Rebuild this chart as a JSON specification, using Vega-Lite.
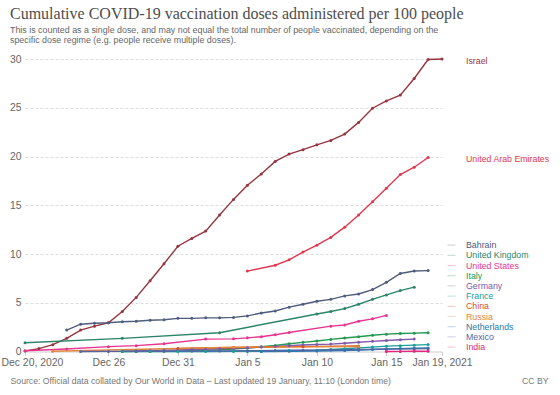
{
  "$schema": "https://vega.github.io/schema/vega-lite/v6.json",
  "width": 417,
  "height": 292.5,
  "autosize": {"type": "none"},
  "padding": {"left": 25, "top": 59, "right": 118, "bottom": 43.5},
  "background": "white",
  "config": {
    "font": "Liberation Sans",
    "view": {"stroke": null}
  },
  "title": {
    "text": "Cumulative COVID-19 vaccination doses administered per 100 people",
    "subtitle": ["This is counted as a single dose, and may not equal the total number of people vaccinated, depending on the", "specific dose regime (e.g. people receive multiple doses)."],
    "anchor": "start",
    "frame": "group",
    "dx": -15,
    "offset": 9,
    "font": "Liberation Serif",
    "fontSize": 16,
    "fontWeight": "normal",
    "color": "#4d4d4d",
    "subtitleFont": "Liberation Sans",
    "subtitleFontSize": 8.9,
    "subtitleColor": "#666666",
    "subtitleLineHeight": 10,
    "subtitlePadding": 4.5
  },
  "data": {"values": [
    {"country":"Israel","date":"2020-12-20","value":0.05},
    {"country":"Israel","date":"2020-12-21","value":0.3},
    {"country":"Israel","date":"2020-12-22","value":0.7},
    {"country":"Israel","date":"2020-12-23","value":1.35},
    {"country":"Israel","date":"2020-12-24","value":2.2},
    {"country":"Israel","date":"2020-12-25","value":2.6},
    {"country":"Israel","date":"2020-12-26","value":2.95},
    {"country":"Israel","date":"2020-12-27","value":4.1},
    {"country":"Israel","date":"2020-12-28","value":5.55},
    {"country":"Israel","date":"2020-12-29","value":7.25},
    {"country":"Israel","date":"2020-12-30","value":9.0},
    {"country":"Israel","date":"2020-12-31","value":10.8},
    {"country":"Israel","date":"2021-01-01","value":11.6},
    {"country":"Israel","date":"2021-01-02","value":12.35},
    {"country":"Israel","date":"2021-01-03","value":14.0},
    {"country":"Israel","date":"2021-01-04","value":15.6},
    {"country":"Israel","date":"2021-01-05","value":17.05},
    {"country":"Israel","date":"2021-01-06","value":18.2},
    {"country":"Israel","date":"2021-01-07","value":19.5},
    {"country":"Israel","date":"2021-01-08","value":20.25},
    {"country":"Israel","date":"2021-01-09","value":20.7},
    {"country":"Israel","date":"2021-01-10","value":21.2},
    {"country":"Israel","date":"2021-01-11","value":21.65},
    {"country":"Israel","date":"2021-01-12","value":22.3},
    {"country":"Israel","date":"2021-01-13","value":23.5},
    {"country":"Israel","date":"2021-01-14","value":24.95},
    {"country":"Israel","date":"2021-01-15","value":25.7},
    {"country":"Israel","date":"2021-01-16","value":26.3},
    {"country":"Israel","date":"2021-01-17","value":28.0},
    {"country":"Israel","date":"2021-01-18","value":29.95},
    {"country":"Israel","date":"2021-01-19","value":30.0},
    {"country":"United Arab Emirates","date":"2021-01-05","value":8.25},
    {"country":"United Arab Emirates","date":"2021-01-07","value":8.85},
    {"country":"United Arab Emirates","date":"2021-01-08","value":9.4},
    {"country":"United Arab Emirates","date":"2021-01-09","value":10.2},
    {"country":"United Arab Emirates","date":"2021-01-10","value":10.9},
    {"country":"United Arab Emirates","date":"2021-01-11","value":11.7},
    {"country":"United Arab Emirates","date":"2021-01-12","value":12.75},
    {"country":"United Arab Emirates","date":"2021-01-13","value":14.0},
    {"country":"United Arab Emirates","date":"2021-01-14","value":15.35},
    {"country":"United Arab Emirates","date":"2021-01-15","value":16.75},
    {"country":"United Arab Emirates","date":"2021-01-16","value":18.15},
    {"country":"United Arab Emirates","date":"2021-01-17","value":18.9},
    {"country":"United Arab Emirates","date":"2021-01-18","value":19.9},
    {"country":"Bahrain","date":"2020-12-23","value":2.2},
    {"country":"Bahrain","date":"2020-12-24","value":2.8},
    {"country":"Bahrain","date":"2020-12-25","value":2.9},
    {"country":"Bahrain","date":"2020-12-26","value":2.95},
    {"country":"Bahrain","date":"2020-12-27","value":3.05},
    {"country":"Bahrain","date":"2020-12-28","value":3.1},
    {"country":"Bahrain","date":"2020-12-29","value":3.2},
    {"country":"Bahrain","date":"2020-12-30","value":3.25},
    {"country":"Bahrain","date":"2020-12-31","value":3.4},
    {"country":"Bahrain","date":"2021-01-01","value":3.4},
    {"country":"Bahrain","date":"2021-01-02","value":3.45},
    {"country":"Bahrain","date":"2021-01-03","value":3.45},
    {"country":"Bahrain","date":"2021-01-04","value":3.5},
    {"country":"Bahrain","date":"2021-01-05","value":3.65},
    {"country":"Bahrain","date":"2021-01-06","value":3.95},
    {"country":"Bahrain","date":"2021-01-07","value":4.15},
    {"country":"Bahrain","date":"2021-01-08","value":4.55},
    {"country":"Bahrain","date":"2021-01-09","value":4.85},
    {"country":"Bahrain","date":"2021-01-10","value":5.15},
    {"country":"Bahrain","date":"2021-01-11","value":5.35},
    {"country":"Bahrain","date":"2021-01-12","value":5.7},
    {"country":"Bahrain","date":"2021-01-13","value":5.9},
    {"country":"Bahrain","date":"2021-01-14","value":6.35},
    {"country":"Bahrain","date":"2021-01-15","value":7.1},
    {"country":"Bahrain","date":"2021-01-16","value":8.0},
    {"country":"Bahrain","date":"2021-01-17","value":8.25},
    {"country":"Bahrain","date":"2021-01-18","value":8.3},
    {"country":"United Kingdom","date":"2020-12-20","value":0.9},
    {"country":"United Kingdom","date":"2020-12-27","value":1.35},
    {"country":"United Kingdom","date":"2021-01-03","value":1.93},
    {"country":"United Kingdom","date":"2021-01-10","value":3.85},
    {"country":"United Kingdom","date":"2021-01-11","value":4.1},
    {"country":"United Kingdom","date":"2021-01-12","value":4.4},
    {"country":"United Kingdom","date":"2021-01-13","value":4.85},
    {"country":"United Kingdom","date":"2021-01-14","value":5.35},
    {"country":"United Kingdom","date":"2021-01-15","value":5.8},
    {"country":"United Kingdom","date":"2021-01-16","value":6.25},
    {"country":"United Kingdom","date":"2021-01-17","value":6.6},
    {"country":"United States","date":"2020-12-20","value":0.08},
    {"country":"United States","date":"2020-12-23","value":0.25},
    {"country":"United States","date":"2020-12-26","value":0.5},
    {"country":"United States","date":"2020-12-28","value":0.6},
    {"country":"United States","date":"2020-12-30","value":0.8},
    {"country":"United States","date":"2021-01-02","value":1.27},
    {"country":"United States","date":"2021-01-04","value":1.3},
    {"country":"United States","date":"2021-01-05","value":1.4},
    {"country":"United States","date":"2021-01-06","value":1.52},
    {"country":"United States","date":"2021-01-07","value":1.72},
    {"country":"United States","date":"2021-01-08","value":1.95},
    {"country":"United States","date":"2021-01-11","value":2.6},
    {"country":"United States","date":"2021-01-12","value":2.72},
    {"country":"United States","date":"2021-01-13","value":3.1},
    {"country":"United States","date":"2021-01-14","value":3.35},
    {"country":"United States","date":"2021-01-15","value":3.7},
    {"country":"Italy","date":"2020-12-27","value":0.0},
    {"country":"Italy","date":"2020-12-28","value":0.01},
    {"country":"Italy","date":"2020-12-29","value":0.01},
    {"country":"Italy","date":"2020-12-30","value":0.02},
    {"country":"Italy","date":"2020-12-31","value":0.05},
    {"country":"Italy","date":"2021-01-01","value":0.08},
    {"country":"Italy","date":"2021-01-02","value":0.12},
    {"country":"Italy","date":"2021-01-03","value":0.18},
    {"country":"Italy","date":"2021-01-04","value":0.26},
    {"country":"Italy","date":"2021-01-05","value":0.36},
    {"country":"Italy","date":"2021-01-06","value":0.48},
    {"country":"Italy","date":"2021-01-07","value":0.62},
    {"country":"Italy","date":"2021-01-08","value":0.8},
    {"country":"Italy","date":"2021-01-09","value":0.94},
    {"country":"Italy","date":"2021-01-10","value":1.08},
    {"country":"Italy","date":"2021-01-11","value":1.24},
    {"country":"Italy","date":"2021-01-12","value":1.38},
    {"country":"Italy","date":"2021-01-13","value":1.52},
    {"country":"Italy","date":"2021-01-14","value":1.66},
    {"country":"Italy","date":"2021-01-15","value":1.78},
    {"country":"Italy","date":"2021-01-16","value":1.84},
    {"country":"Italy","date":"2021-01-17","value":1.88},
    {"country":"Italy","date":"2021-01-18","value":1.93},
    {"country":"Germany","date":"2020-12-27","value":0.02},
    {"country":"Germany","date":"2020-12-28","value":0.05},
    {"country":"Germany","date":"2020-12-29","value":0.1},
    {"country":"Germany","date":"2020-12-30","value":0.14},
    {"country":"Germany","date":"2020-12-31","value":0.16},
    {"country":"Germany","date":"2021-01-01","value":0.2},
    {"country":"Germany","date":"2021-01-02","value":0.23},
    {"country":"Germany","date":"2021-01-03","value":0.28},
    {"country":"Germany","date":"2021-01-04","value":0.32},
    {"country":"Germany","date":"2021-01-05","value":0.38},
    {"country":"Germany","date":"2021-01-06","value":0.45},
    {"country":"Germany","date":"2021-01-07","value":0.53},
    {"country":"Germany","date":"2021-01-08","value":0.6},
    {"country":"Germany","date":"2021-01-09","value":0.66},
    {"country":"Germany","date":"2021-01-10","value":0.72},
    {"country":"Germany","date":"2021-01-11","value":0.76},
    {"country":"Germany","date":"2021-01-12","value":0.84},
    {"country":"Germany","date":"2021-01-13","value":0.95},
    {"country":"Germany","date":"2021-01-14","value":1.04},
    {"country":"Germany","date":"2021-01-15","value":1.13},
    {"country":"Germany","date":"2021-01-16","value":1.2},
    {"country":"Germany","date":"2021-01-17","value":1.27},
    {"country":"France","date":"2020-12-27","value":0.0},
    {"country":"France","date":"2020-12-29","value":0.0},
    {"country":"France","date":"2020-12-31","value":0.0},
    {"country":"France","date":"2021-01-02","value":0.0},
    {"country":"France","date":"2021-01-04","value":0.01},
    {"country":"France","date":"2021-01-05","value":0.01},
    {"country":"France","date":"2021-01-06","value":0.02},
    {"country":"France","date":"2021-01-07","value":0.07},
    {"country":"France","date":"2021-01-08","value":0.1},
    {"country":"France","date":"2021-01-10","value":0.14},
    {"country":"France","date":"2021-01-11","value":0.2},
    {"country":"France","date":"2021-01-12","value":0.28},
    {"country":"France","date":"2021-01-13","value":0.37},
    {"country":"France","date":"2021-01-14","value":0.45},
    {"country":"France","date":"2021-01-15","value":0.55},
    {"country":"France","date":"2021-01-16","value":0.6},
    {"country":"France","date":"2021-01-17","value":0.65},
    {"country":"France","date":"2021-01-18","value":0.71},
    {"country":"China","date":"2020-12-31","value":0.32},
    {"country":"China","date":"2021-01-09","value":0.5},
    {"country":"China","date":"2021-01-13","value":0.56},
    {"country":"Russia","date":"2020-12-22","value":0.02},
    {"country":"Russia","date":"2021-01-04","value":0.43},
    {"country":"Russia","date":"2021-01-13","value":0.52},
    {"country":"Netherlands","date":"2021-01-06","value":0.0},
    {"country":"Netherlands","date":"2021-01-08","value":0.02},
    {"country":"Netherlands","date":"2021-01-10","value":0.05},
    {"country":"Netherlands","date":"2021-01-12","value":0.1},
    {"country":"Netherlands","date":"2021-01-13","value":0.14},
    {"country":"Netherlands","date":"2021-01-14","value":0.2},
    {"country":"Netherlands","date":"2021-01-15","value":0.26},
    {"country":"Netherlands","date":"2021-01-16","value":0.3},
    {"country":"Netherlands","date":"2021-01-17","value":0.33},
    {"country":"Netherlands","date":"2021-01-18","value":0.36},
    {"country":"Mexico","date":"2020-12-24","value":0.0},
    {"country":"Mexico","date":"2020-12-26","value":0.01},
    {"country":"Mexico","date":"2020-12-28","value":0.02},
    {"country":"Mexico","date":"2020-12-30","value":0.03},
    {"country":"Mexico","date":"2021-01-01","value":0.04},
    {"country":"Mexico","date":"2021-01-03","value":0.05},
    {"country":"Mexico","date":"2021-01-05","value":0.07},
    {"country":"Mexico","date":"2021-01-07","value":0.1},
    {"country":"Mexico","date":"2021-01-09","value":0.13},
    {"country":"Mexico","date":"2021-01-11","value":0.16},
    {"country":"Mexico","date":"2021-01-13","value":0.2},
    {"country":"Mexico","date":"2021-01-15","value":0.24},
    {"country":"Mexico","date":"2021-01-17","value":0.27},
    {"country":"Mexico","date":"2021-01-18","value":0.29},
    {"country":"India","date":"2021-01-15","value":0.0},
    {"country":"India","date":"2021-01-16","value":0.01},
    {"country":"India","date":"2021-01-17","value":0.02},
    {"country":"India","date":"2021-01-18","value":0.03}
  ]},
  "encoding": {
    "x": {
      "field": "date",
      "type": "temporal",
      "scale": {"type": "utc", "domain": [{"year": 2020, "month": 12, "date": 20, "utc": true}, {"year": 2021, "month": 1, "date": 19, "utc": true}]},
      "axis": {
        "values": [
          {"year": 2020, "month": 12, "date": 20, "utc": true},
          {"year": 2020, "month": 12, "date": 26, "utc": true},
          {"year": 2020, "month": 12, "date": 31, "utc": true},
          {"year": 2021, "month": 1, "date": 5, "utc": true},
          {"year": 2021, "month": 1, "date": 10, "utc": true},
          {"year": 2021, "month": 1, "date": 15, "utc": true},
          {"year": 2021, "month": 1, "date": 19, "utc": true}
        ],
        "labelExpr": "datum.index === 0 || datum.index === 1 ? utcFormat(datum.value, '%b %-d, %Y') : utcFormat(datum.value, '%b %-d')",
        "labelAlign": {"condition": {"test": "datum.index === 0", "value": "left"}, "value": "center"},
        "labelOffset": {"condition": {"test": "datum.index === 0", "value": -24}, "value": 0},
        "labelFlush": false,
        "labelOverlap": false,
        "grid": false,
        "domainColor": "#cccccc",
        "tickColor": "#cccccc",
        "tickSize": 4,
        "labelPadding": 2,
        "labelFontSize": 10.4,
        "labelColor": "#666666",
        "title": "Source: Official data collated by Our World in Data – Last updated 19 January, 11:10 (London time)",
        "titleX": -15,
        "titleY": 28.5,
        "titleAlign": "left",
        "titleBaseline": "middle",
        "titleFontSize": 8.7,
        "titleFontWeight": "normal",
        "titleColor": "#777777"
      }
    },
    "y": {
      "field": "value",
      "type": "quantitative",
      "scale": {"domain": [0, 30], "nice": false},
      "axis": {
        "values": [0, 5, 10, 15, 20, 25, 30],
        "domain": false,
        "ticks": false,
        "labelPadding": 4,
        "labelFontSize": 10.4,
        "labelColor": "#666666",
        "gridColor": "#dddddd",
        "gridDash": [3, 2],
        "gridOpacity": {"condition": {"test": "datum.value === 0", "value": 0}, "value": 1},
        "title": "CC BY",
        "titleAngle": 0,
        "titleX": 523,
        "titleY": 321,
        "titleAlign": "right",
        "titleBaseline": "middle",
        "titleFontSize": 8.7,
        "titleFontWeight": "normal",
        "titleColor": "#777777"
      }
    },
    "color": {
      "field": "country",
      "type": "nominal",
      "scale": {
        "domain": ["Israel", "United Arab Emirates", "Bahrain", "United Kingdom", "United States", "Italy", "Germany", "France", "China", "Russia", "Netherlands", "Mexico", "India"],
        "range": ["#96353f", "#e2384f", "#4e5d7d", "#2c8467", "#e8348f", "#22994f", "#7e5aa8", "#1a9e9b", "#d4521e", "#e3843a", "#2679b0", "#5565a6", "#e6287b"]
      },
      "legend": {
        "orient": "none",
        "legendX": 422,
        "legendY": 181.6,
        "values": ["Bahrain", "United Kingdom", "United States", "Italy", "Germany", "France", "China", "Russia", "Netherlands", "Mexico", "India"],
        "title": null,
        "padding": 0,
        "symbolType": "stroke",
        "symbolSize": 64,
        "symbolStrokeWidth": 1,
        "symbolOpacity": 0.3,
        "labelFontSize": 8.8,
        "labelOffset": 10,
        "rowPadding": 0.2,
        "encode": {
          "labels": {"update": {"fill": {"scale": "color", "field": "value"}}}
        }
      }
    }
  },
  "layer": [
    {"mark": {"type": "line", "strokeWidth": 1.4}},
    {"mark": {"type": "point", "filled": true, "size": 9, "opacity": 1}},
    {
      "transform": [
        {"filter": "datum.country === 'Israel' || datum.country === 'United Arab Emirates'"},
        {"window": [{"op": "rank", "as": "r"}], "sort": [{"field": "date", "order": "descending"}], "groupby": ["country"]},
        {"filter": "datum.r === 1"}
      ],
      "mark": {"type": "text", "align": "left", "baseline": "middle", "dx": 24, "dy": 2, "fontSize": 8.8},
      "encoding": {
        "x": {"datum": {"year": 2021, "month": 1, "date": 19, "utc": true}, "type": "temporal"},
        "text": {"field": "country"}
      }
    }
  ]
}
